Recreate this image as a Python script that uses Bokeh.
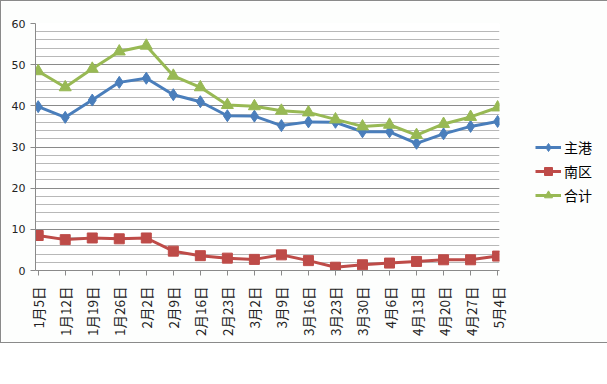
import math
from bokeh.plotting import figure
from bokeh.models import (ColumnDataSource, Legend, LegendItem, FixedTicker,
                          SingleIntervalTicker, Range1d)
from bokeh.embed import file_html
from bokeh.resources import INLINE

dates = ["1月5日", "1月12日", "1月19日", "1月26日", "2月2日", "2月9日", "2月16日",
         "2月23日", "3月2日", "3月9日", "3月16日", "3月23日", "3月30日", "4月6日",
         "4月13日", "4月20日", "4月27日", "5月4日"]
main_port = [39.8, 37.2, 41.4, 45.7, 46.7, 42.7, 41.0, 37.6, 37.5, 35.2, 36.1, 36.0,
             33.7, 33.7, 30.9, 33.2, 35.0, 36.2]
south = [8.5, 7.5, 7.9, 7.7, 7.9, 4.7, 3.6, 3.0, 2.7, 3.8, 2.4, 0.8, 1.4, 1.8, 2.2,
         2.6, 2.6, 3.5]
total = [48.4, 44.5, 49.0, 53.2, 54.6, 47.3, 44.5, 40.2, 39.9, 38.8, 38.4, 36.7, 35.0,
         35.4, 32.9, 35.6, 37.3, 39.6]
series_names = ["主港", "南区", "合计"]

xs = list(range(len(dates)))
src = ColumnDataSource(dict(x=xs, a=main_port, b=south, c=total))

p = figure(output_backend="svg", toolbar_location=None,
           frame_width=464, frame_height=247,
           min_border_left=34, min_border_top=22, min_border_bottom=72,
           min_border_right=105,
           x_range=Range1d(-0.1, 17.07), y_range=Range1d(0, 60))
p.styles = {"border": "1px solid #8a8a8a"}
p.background_fill_color = "#ffffff"
p.border_fill_color = "#fdfefd"
p.outline_line_color = None

# grids
p.xgrid.grid_line_color = None
p.ygrid.grid_line_color = "#8a8a8a"
p.ygrid.minor_grid_line_color = "#b8b8b8"
p.yaxis.ticker = SingleIntervalTicker(interval=10, num_minor_ticks=5)
p.ygrid.ticker = p.yaxis.ticker

p.yaxis.axis_line_color = "#8a8a8a"
p.yaxis.major_tick_line_color = "#8a8a8a"
p.yaxis.major_tick_out = 5
p.yaxis.major_tick_in = 0
p.yaxis.minor_tick_line_color = None
p.yaxis.major_label_text_font = "DejaVu Sans"
p.yaxis.major_label_text_font_size = "11px"
p.yaxis.major_label_text_color = "#222222"
p.yaxis.major_label_standoff = 5

p.xaxis.ticker = FixedTicker(ticks=xs)
p.xaxis.major_label_overrides = {i: d for i, d in enumerate(dates)}
p.xaxis.major_label_orientation = math.pi / 2
p.xaxis.axis_line_color = "#8a8a8a"
p.xaxis.major_tick_line_color = "#8a8a8a"
p.xaxis.major_tick_out = 5
p.xaxis.major_tick_in = 0
p.xaxis.minor_tick_line_color = None
p.xaxis.major_label_text_font = "Noto Sans CJK SC"
p.xaxis.major_label_text_font_size = "13.5px"
p.xaxis.major_label_text_color = "#222222"
p.xaxis.major_label_standoff = 11

blue, red, green = "#4A7EBB", "#BE4B48", "#98B954"

l1 = p.line("x", "a", source=src, line_color=blue, line_width=3)
m1 = p.scatter("x", "a", source=src, marker="diamond", size=12, fill_color=blue,
               line_color=blue)
l2 = p.line("x", "b", source=src, line_color=red, line_width=3)
m2 = p.scatter("x", "b", source=src, marker="square", size=10, fill_color=red,
               line_color=red)
l3 = p.line("x", "c", source=src, line_color=green, line_width=3)
m3 = p.scatter("x", "c", source=src, marker="triangle", size=12, fill_color=green,
               line_color=green)

legend = Legend(items=[LegendItem(label=series_names[0], renderers=[l1, m1]),
                       LegendItem(label=series_names[1], renderers=[l2, m2]),
                       LegendItem(label=series_names[2], renderers=[l3, m3])],
                location=(36, 65), orientation="vertical",
                label_text_font="Noto Sans CJK SC", label_text_font_size="14px",
                label_text_color="#000000", glyph_width=26, glyph_height=20,
                spacing=4, padding=0, margin=0, border_line_color=None,
                background_fill_alpha=0, label_standoff=3)
p.add_layout(legend, "right")

open("out.html", "w").write(file_html(p, INLINE))
